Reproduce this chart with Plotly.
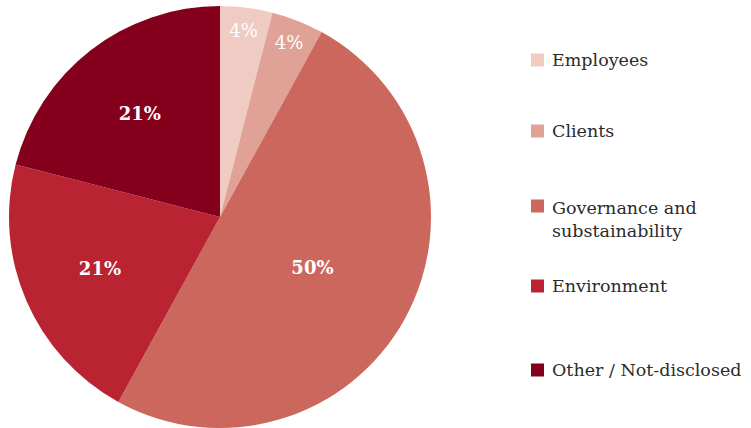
import plotly.graph_objects as go

# Share of items by stakeholder category (percent)
categories = ["Employees", "Clients", "Governance and<br>substainability", "Environment", "Other / Not-disclosed"]
values = [4, 4, 50, 21, 21]
colors = ["#EFCBC3", "#E0A196", "#CB675C", "#BA2332", "#84001C"]
label_weights = ["normal", "normal", "bold", "bold", "bold"]

# Vertical centre of each legend swatch (first text line), in pixels from the top
legend_rows_px = [60, 131, 206, 286, 370]
LINE_PX = 26

W, H = 751, 428
SERIF = "DejaVu Serif"

fig = go.Figure()
fig.add_trace(go.Pie(
    labels=categories,
    values=values,
    sort=False,
    direction="clockwise",
    rotation=0,
    marker=dict(colors=colors, line=dict(width=0)),
    texttemplate="%{value}%",
    textposition="inside",
    insidetextorientation="horizontal",
    textfont=dict(family=SERIF, size=18, color="white", weight=label_weights),
    hoverinfo="label+percent",
    showlegend=False,
    domain=dict(x=[9 / W, 431 / W], y=[0, 422 / H]),
))

# Legend: square swatch plus label for each category
for name, col, ypx in zip(categories, colors, legend_rows_px):
    yc = 1 - ypx / H
    fig.add_shape(type="rect", xref="paper", yref="paper",
                  x0=531 / W, x1=544 / W, y0=yc - 6.5 / H, y1=yc + 6.5 / H,
                  fillcolor=col, line=dict(width=0))
    n_lines = name.count("<br>") + 1
    fig.add_annotation(xref="paper", yref="paper", x=551 / W,
                       y=yc - (n_lines - 1) * (LINE_PX / 2) / H,
                       text=name, showarrow=False, xanchor="left", yanchor="middle",
                       align="left", borderpad=0,
                       font=dict(family=SERIF, size=17.5, color="#2b2b2b"))

fig.update_layout(
    width=W, height=H,
    margin=dict(l=0, r=0, t=0, b=0),
    paper_bgcolor="white",
    plot_bgcolor="white",
)

fig.write_html("out.html")
